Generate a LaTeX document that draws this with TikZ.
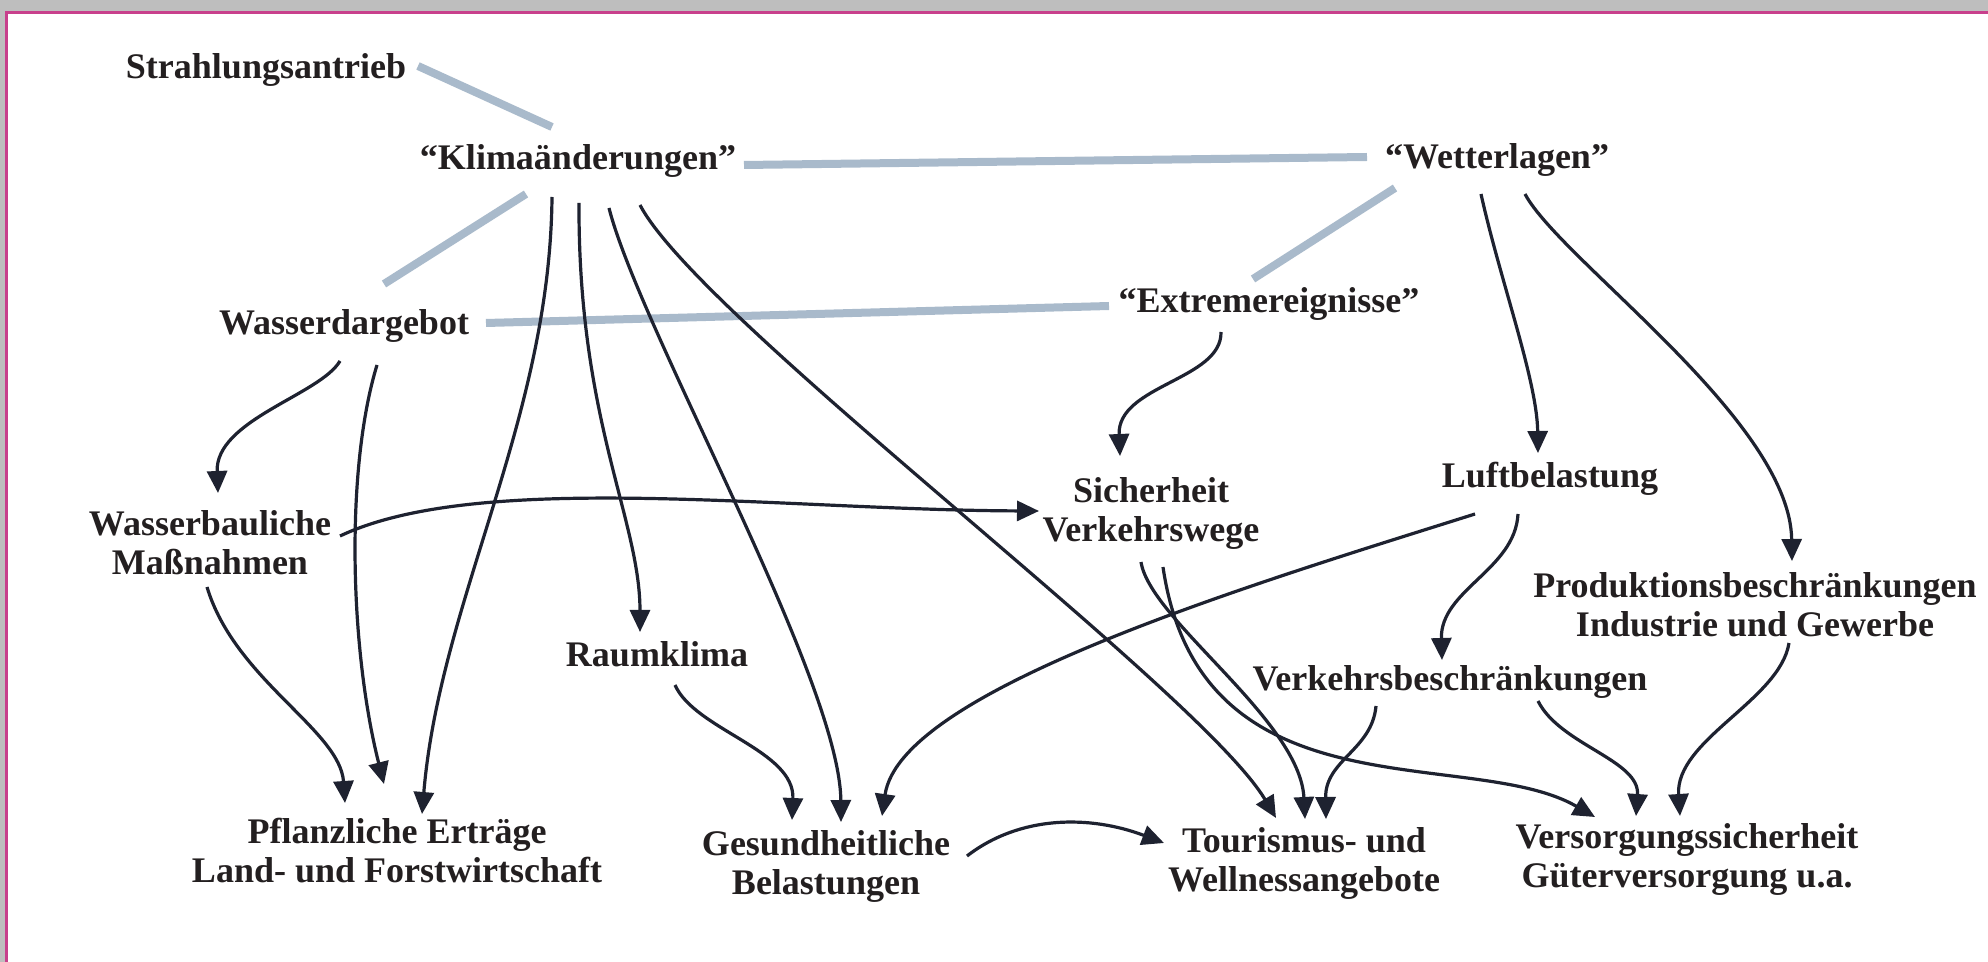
\documentclass[tikz,border=0pt]{standalone}
\usepackage{fontspec}
\setmainfont{Liberation Serif}
\usetikzlibrary{arrows.meta}
\definecolor{ink}{HTML}{231F20}
\definecolor{arr}{HTML}{1E2230}
\definecolor{link}{HTML}{A9BACB}
\definecolor{barg}{HTML}{BEBEBE}
\definecolor{mag}{HTML}{C8408C}
\begin{document}
\begin{tikzpicture}[x=0.5pt,y=-0.5pt,
 lbl/.style={font=\bfseries\fontsize{18}{19.5}\selectfont, text=ink, align=center, inner sep=0pt},
 rel/.style={draw=link, line width=4pt, line cap=butt},
 eff/.style={draw=arr, line width=1.6pt, -{Triangle[length=11pt,width=10pt]}}]
\useasboundingbox (0,0) rectangle (1988,962);
\fill[white] (0,0) rectangle (1988,962);
\fill[barg] (0,0) rectangle (1988,11);
\fill[barg] (0,0) rectangle (5,962);
\draw[mag, line width=1.5pt] (6.5,962) -- (6.5,12.5) -- (1988,12.5);

% nodes
\node[lbl] (S)  at (266,70)  {Strahlungsantrieb};
\node[lbl] (K)  at (578,161) {“Klimaänderungen”};
\node[lbl] (W)  at (1497,160) {“Wetterlagen”};
\node[lbl] (E)  at (1269,304) {“Extremereignisse”};
\node[lbl] (WD) at (344,326) {Wasserdargebot};
\node[lbl] (WB) at (210,543) {Wasserbauliche\\Maßnahmen};
\node[lbl] (SV) at (1151,513) {Sicherheit\\Verkehrswege};
\node[lbl] (L)  at (1550,479) {Luftbelastung};
\node[lbl] (P)  at (1755,605) {Produktionsbeschränkungen\\Industrie und Gewerbe};
\node[lbl] (R)  at (657,654) {Raumklima};
\node[lbl] (VB) at (1450,682) {Verkehrsbeschränkungen};
\node[lbl] (PE) at (397,851) {Pflanzliche Erträge\\Land- und Forstwirtschaft};
\node[lbl] (G)  at (826,866) {Gesundheitliche\\Belastungen};
\node[lbl] (T)  at (1304,863) {Tourismus- und\\Wellnessangebote};
\node[lbl] (V)  at (1687,859) {Versorgungssicherheit\\Güterversorgung u.a.};

% gray relations
\draw[rel] ([shift={(152,-4)}]S.center) -- ([shift={(-26,-34)}]K.center);
\draw[rel] ([shift={(166,4)}]K.center) -- ([shift={(-130,-3)}]W.center);
\draw[rel] ([shift={(-52,33)}]K.center) -- ([shift={(40,-42)}]WD.center);
\draw[rel] ([shift={(142,-3)}]WD.center) -- ([shift={(-160,2)}]E.center);
\draw[rel] ([shift={(-102,28)}]W.center) -- ([shift={(-16,-25)}]E.center);

% effect arrows
\draw[eff] ([shift={(-26,36)}]K.center) .. controls (550,420) and (440,600) .. ([shift={(25,-37)}]PE.center);
\draw[eff] ([shift={(1,42)}]K.center) .. controls (578,420) and (640,520) .. ([shift={(-17,-22)}]R.center);
\draw[eff] ([shift={(31,47)}]K.center) .. controls (640,330) and (840,680) .. ([shift={(15,-44)}]G.center);
\draw[eff] ([shift={(62,44)}]K.center) .. controls (700,320) and (1200,690) .. ([shift={(-28,-45)}]T.center);
\draw[eff] ([shift={(-4,35)}]WD.center) .. controls (320,395) and (215,420) .. ([shift={(8,-50)}]WB.center);
\draw[eff] ([shift={(33,39)}]WD.center) .. controls (345,470) and (350,650) .. ([shift={(-13,-67)}]PE.center);
\draw[eff] ([shift={(130,-7)}]WB.center) .. controls (480,470) and (780,510) .. ([shift={(-112,-2)}]SV.center);
\draw[eff] ([shift={(-3,44)}]WB.center) .. controls (235,680) and (340,730) .. ([shift={(-52,-48)}]PE.center);
\draw[eff] ([shift={(-48,28)}]E.center) .. controls (1222,380) and (1117,385) .. ([shift={(-31,-57)}]SV.center);
\draw[eff] ([shift={(-16,34)}]W.center) .. controls (1500,280) and (1537,380) .. ([shift={(-12,-26)}]L.center);
\draw[eff] ([shift={(28,34)}]W.center) .. controls (1560,260) and (1790,420) .. ([shift={(37,-44)}]P.center);
\draw[eff] ([shift={(-10,49)}]SV.center) .. controls (1150,620) and (1300,720) .. ([shift={(1,-44)}]T.center);
\draw[eff] ([shift={(12,54)}]SV.center) .. controls (1200,820) and (1470,745) .. ([shift={(-92,-42)}]V.center);
\draw[eff] ([shift={(-75,35)}]L.center) .. controls (1250,585) and (900,690) .. ([shift={(56,-50)}]G.center);
\draw[eff] ([shift={(-32,35)}]L.center) .. controls (1515,570) and (1440,590) .. ([shift={(-8,-22)}]VB.center);
\draw[eff] ([shift={(-74,24)}]VB.center) .. controls (1372,750) and (1325,760) .. ([shift={(22,-44)}]T.center);
\draw[eff] ([shift={(88,19)}]VB.center) .. controls (1560,745) and (1640,760) .. ([shift={(-51,-43)}]V.center);
\draw[eff] ([shift={(34,38)}]P.center) .. controls (1780,700) and (1675,740) .. ([shift={(-7,-43)}]V.center);
\draw[eff] ([shift={(18,31)}]R.center) .. controls (695,730) and (795,750) .. ([shift={(-34,-46)}]G.center);
\draw[eff] ([shift={(141,-10)}]G.center) .. controls (1020,815) and (1090,815) .. ([shift={(-140,-20)}]T.center);
\end{tikzpicture}
\end{document}
